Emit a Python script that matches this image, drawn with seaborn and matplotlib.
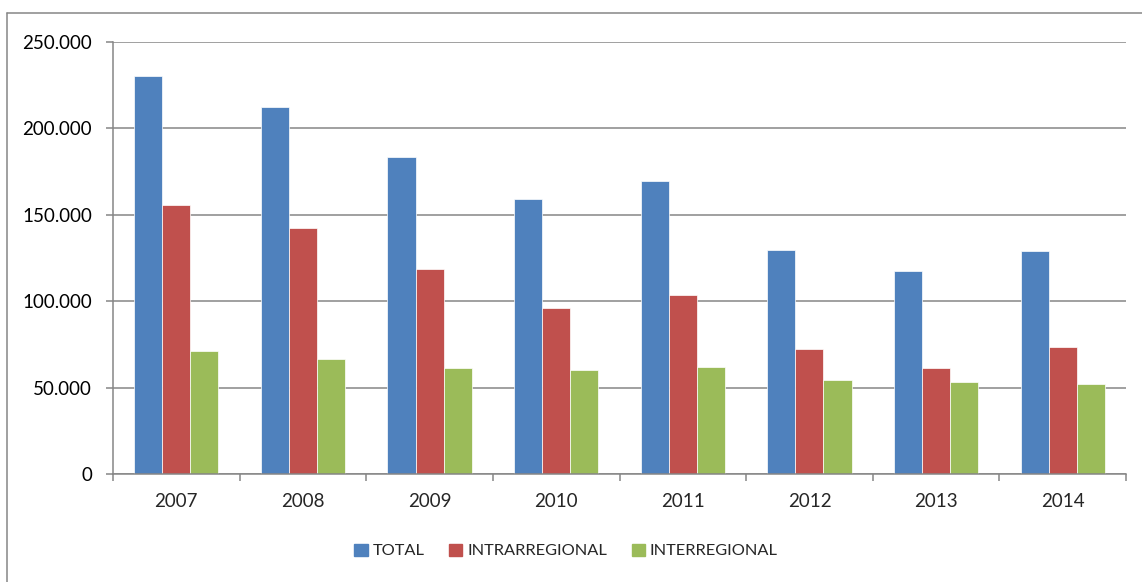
import matplotlib
matplotlib.use("Agg")
import matplotlib.pyplot as plt
import matplotlib.ticker as mticker
from matplotlib.lines import Line2D
from matplotlib.patches import Patch
import pandas as pd
import seaborn as sns

years = ["2007", "2008", "2009", "2010", "2011", "2012", "2013", "2014"]
series = ["TOTAL", "INTRARREGIONAL", "INTERREGIONAL"]
total = [230300, 212500, 183400, 159250, 169300, 129900, 117350, 129000]
intra = [155600, 142450, 118500, 95950, 103300, 72200, 61400, 73700]
inter = [71050, 66800, 61400, 60000, 62150, 54250, 53300, 52100]
colors = ["#4F81BD", "#C0504D", "#9BBB59"]

df = pd.DataFrame({
    "year": years * 3,
    "serie": [s for s in series for _ in years],
    "valor": total + intra + inter,
})

sns.set_style("white")
plt.rcParams["font.family"] = ["Lato", "DejaVu Sans"]
grid_c = "#868686"

fig = plt.figure(figsize=(11.42, 5.82), dpi=100)
ax = fig.add_axes([113 / 1142, 1 - 474 / 582, (1126 - 113) / 1142, (474 - 42) / 582])

sns.barplot(data=df, x="year", y="valor", hue="serie", order=years,
            hue_order=series, palette=colors, width=0.665, saturation=1,
            edgecolor="white", linewidth=0.5, legend=False, ax=ax)

ax.set_ylim(0, 250000)
ax.set_xlim(-0.5, len(years) - 0.5)
ax.set_yticks(range(0, 250001, 50000))
ax.yaxis.set_major_formatter(mticker.FuncFormatter(
    lambda v, p: "0" if v == 0 else f"{int(v):,}".replace(",", ".")))
ax.grid(axis="y", color=grid_c, linewidth=1.1)
ax.set_axisbelow(True)
ax.set_xlabel("")
ax.set_ylabel("")

for side in ["top", "right"]:
    ax.spines[side].set_visible(False)
for side in ["left", "bottom"]:
    ax.spines[side].set_color(grid_c)
    ax.spines[side].set_linewidth(1.1)

ax.tick_params(axis="y", left=True, length=5, width=1.1, color=grid_c,
               labelsize=13.5, pad=10, labelcolor="black")
ax.tick_params(axis="x", which="major", length=0, labelsize=13.5, pad=14)
ax.set_xticks([i - 0.5 for i in range(len(years) + 1)], minor=True)
ax.tick_params(axis="x", which="minor", bottom=True, length=5, width=1.1,
               color=grid_c)

handles = [Patch(facecolor=c, edgecolor=c) for c in colors]
fig.legend(handles, series, loc="center", bbox_to_anchor=(566 / 1142, 1 - 551 / 582),
           ncol=3, frameon=False, fontsize=11.8, handlelength=0.8,
           handleheight=0.8, handletextpad=0.3, columnspacing=1.5)

# outer chart frame (only top and left edges visible in the crop)
fig.add_artist(Line2D([7 / 1142, 1], [1 - 13 / 582, 1 - 13 / 582],
                      color=grid_c, linewidth=1.1, transform=fig.transFigure))
fig.add_artist(Line2D([7 / 1142, 7 / 1142], [0, 1 - 13 / 582],
                      color=grid_c, linewidth=1.1, transform=fig.transFigure))

fig.savefig("out.png", dpi=100)
